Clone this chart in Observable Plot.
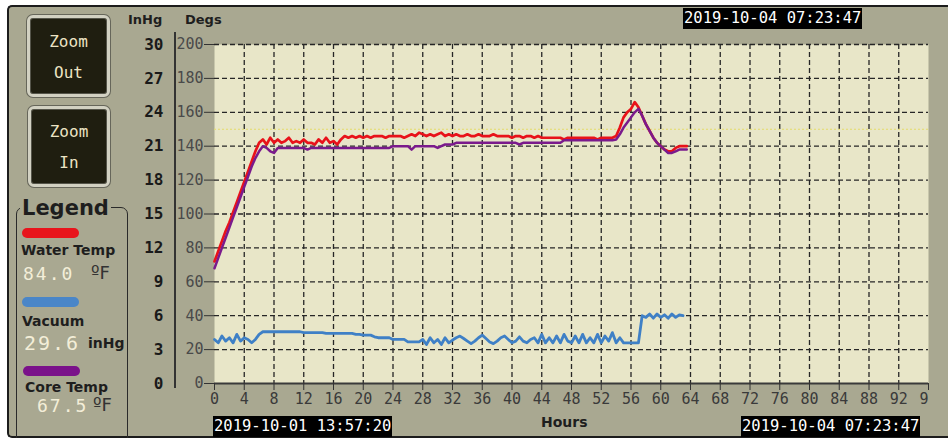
<!DOCTYPE html>
<html><head><meta charset="utf-8">
<script src="https://cdn.jsdelivr.net/npm/d3@7"></script>
<script src="https://cdn.jsdelivr.net/npm/@observablehq/plot@0.6"></script>
<style>
html,body{margin:0;padding:0;background:#fff;overflow:hidden;}
#wrap{position:relative;width:948px;height:438px;overflow:hidden;}
#panel{position:absolute;left:7px;top:5px;width:960px;height:429px;background:#a9a891;border-top:2px solid #1c1c1c;border-left:2px solid #1c1c1c;border-bottom:2px solid #1c1c1c;border-radius:5px 0 0 5px;}
#chart{position:absolute;left:0;top:0;}
.abs{position:absolute;white-space:nowrap;}
.btn{position:absolute;background:#1f1e10;border:3px solid #d2d1c2;border-radius:6px;box-shadow:0 0 0 1px #66665a, inset 0 0 0 1px #55554a;color:#ece4c4;font:16px "DejaVu Sans Mono",monospace;text-align:center;line-height:31px;box-sizing:border-box;}
.stamp{position:absolute;background:#000;color:#fff;font:15.5px "DejaVu Sans Mono",monospace;line-height:21px;padding:0 1px;white-space:nowrap;}
.bold{font-family:"DejaVu Sans",sans-serif;font-weight:bold;color:#1e1e1e;}
.val{font-family:"DejaVu Sans Mono",monospace;font-size:18px;color:#f3eed8;letter-spacing:2px;}
.unitF{font-family:"DejaVu Sans",sans-serif;font-size:18px;color:#333;}
.pill{position:absolute;height:10px;border-radius:5px;}
</style>
</head><body>
<div id="wrap">
  <div id="panel"></div>
  <div class="btn" style="left:27px;top:15px;width:83px;height:82px;padding-top:8px;">Zoom<br>Out</div>
  <div class="btn" style="left:28px;top:106px;width:82px;height:81px;padding-top:7px;">Zoom<br>In</div>
  <div class="abs" style="left:16px;top:207px;width:110px;height:240px;border:1.5px solid #2a2a2a;border-radius:7px;"></div>
  <div class="abs bold" style="left:20px;top:194px;font-size:21px;background:#a9a891;padding:0 2px;line-height:28px;">Legend</div>
  <div class="pill" style="left:22px;top:228px;width:57px;background:#e8141c;"></div>
  <div class="abs bold" style="left:21px;top:242px;font-size:14px;">Water Temp</div>
  <div class="abs val" style="left:23px;top:263px;">84.0</div>
  <div class="abs unitF" style="left:91px;top:262px;">ºF</div>
  <div class="pill" style="left:22px;top:297px;width:57px;background:#4a86c8;"></div>
  <div class="abs bold" style="left:22px;top:313px;font-size:14px;">Vacuum</div>
  <div class="abs val" style="left:24px;top:331px;font-size:20px;">29.6</div>
  <div class="abs bold" style="left:88px;top:335px;font-size:14px;">inHg</div>
  <div class="pill" style="left:23px;top:366px;width:57px;background:#7a118a;"></div>
  <div class="abs bold" style="left:25px;top:379px;font-size:14px;">Core Temp</div>
  <div class="abs val" style="left:37px;top:395px;font-size:18px;">67.5</div>
  <div class="abs unitF" style="left:93px;top:394px;">ºF</div>
  <div class="abs bold" style="left:128px;top:12px;font-size:13px;">InHg</div>
  <div class="abs bold" style="left:185px;top:12px;font-size:13px;">Degs</div>
  <div class="abs" style="left:174px;top:32px;width:2px;height:356px;background:#333;"></div>
  <div id="chart"></div>
  <div class="stamp" style="left:683px;top:8px;">2019-10-04 07:23:47</div>
  <div class="stamp" style="left:213px;top:416px;">2019-10-01 13:57:20</div>
  <div class="stamp" style="left:741px;top:416px;">2019-10-04 07:23:47</div>
  <div class="abs bold" style="left:541px;top:414px;font-size:14px;">Hours</div>
</div>
<script>
// ---- data ----
const hours = [
  0,0.5,1,1.5,2,2.5,3,3.5,4,4.5,5,5.5,6,6.5,7,7.5,8,8.5,9,9.5,
  10,10.5,11,11.5,12,12.5,13,13.5,14,14.5,15,15.5,16,16.5,17,17.5,18,18.5,19,19.5,
  20,20.5,21,21.5,22,22.5,23,23.5,24,24.5,25,25.5,26,26.5,27,27.5,28,28.5,29,29.5,
  30,30.5,31,31.5,32,32.5,33,33.5,34,34.5,35,35.5,36,36.5,37,37.5,38,38.5,39,39.5,
  40,40.5,41,41.5,42,42.5,43,43.5,44,44.5,45,45.5,46,46.5,47,47.5,48,48.5,49,49.5,
  50,50.5,51,51.5,52,52.5,53,53.5,54,54.5,55,55.5,56,56.5,57,57.5,58,58.5,59,59.5,
  60,60.5,61,61.5,62,62.5,63,63.5
];
const waterTemp = [
  72,78,84,90,95,101,107,113,119,125,131,137,142,144,141,145,142,144,142,143,
  145,142,143,142,144,142,142,141,144,142,145,142,143,141,144,146,145,146,145,146,
  145,146,145,146,146,146,145,146,146,146,146,145,146,147,146,148,147,146,147,146,
  147,148,146,147,146,147,146,146,147,146,146,147,146,146,146,147,146,146,146,146,
  145,146,146,145,146,146,145,146,145,145,145,145,145,145,144,145,145,145,145,145,
  145,145,145,144,145,145,145,145,146,151,157,160,162,166,163,158,153,149,145,142,
  140,138,137,137,139,140,140,140
];
const coreTemp = [
  68,74,80,86,92,98,104,110,116,122,128,133,137,140,139,137,136,139,139,139,
  139,139,139,139,139,138,139,139,139,139,139,139,139,139,139,139,139,139,139,139,
  139,139,139,139,139,139,139,139,140,140,140,140,140,138,140,140,140,140,140,140,
  139,140,141,141,141,142,142,142,142,142,142,142,142,142,142,142,142,142,142,142,
  142,142,141,142,142,142,142,142,142,142,142,142,142,142,143.5,143.5,143.5,143.5,143.5,143.5,
  143.5,143.5,143.5,143.5,143.5,143.5,143.5,143.5,144,147,151,154,157,160,162,158,153,149,145,142,
  140,138,136,136,137,138,138,138
];
const vacuumInHg = [
  3.9,3.6,4.2,3.75,4.05,3.6,4.35,3.75,4.05,3.9,3.6,3.9,4.35,4.58,4.58,4.58,4.58,4.58,4.58,4.58,
  4.58,4.58,4.58,4.58,4.5,4.5,4.5,4.5,4.5,4.5,4.43,4.43,4.43,4.43,4.43,4.43,4.43,4.43,4.35,4.35,
  4.28,4.28,4.28,4.13,4.05,4.05,4.05,4.05,3.9,3.9,3.9,3.9,3.68,3.68,3.68,3.68,3.9,3.45,4.05,3.6,
  3.9,3.45,4.05,3.6,3.83,4.05,4.2,3.98,3.75,3.53,3.75,4.05,4.28,3.98,3.68,3.53,3.75,4.05,4.2,3.9,
  3.6,3.75,4.13,3.75,3.6,3.9,4.05,3.6,4.35,3.6,4.05,3.6,4.2,3.6,4.35,3.75,3.6,4.2,3.6,4.35,
  3.6,4.05,3.6,4.35,3.6,4.2,3.75,4.5,3.6,4.05,3.6,3.6,3.6,3.6,3.6,6.0,5.85,6.15,5.78,6.15,
  5.85,6.08,5.78,6.15,5.85,6.08,6.0,null
];
const setpointDegs = [150];
const xTicks = [0,4,8,12,16,20,24,28,32,36,40,44,48,52,56,60,64,68,72,76,80,84,88,92,96];
const degTicks = [0,20,40,60,80,100,120,140,160,180,200];
const inHgMax = 30, degMax = 200;

// ---- build table ----
const rows = hours.map((h, i) => ({h, water: waterTemp[i], core: coreTemp[i], vac: vacuumInHg[i]}));
const degPerInHg = degMax / inHgMax;

const chart = Plot.plot({
  width: 948, height: 438,
  marginLeft: 214, marginRight: 20, marginTop: 44, marginBottom: 55,
  style: {background: "transparent", fontFamily: "DejaVu Sans Mono, monospace", fontSize: "15px", overflow: "visible"},
  x: {domain: [0, 96]},
  y: {domain: [0, degMax]},
  marks: [
    Plot.frame({fill: "#e8e6c8", stroke: null}),
    Plot.gridX({ticks: xTicks.filter(t => t > 0 && t < 96), stroke: "#262626", strokeOpacity: 1, strokeWidth: 1.3, strokeDasharray: "5,3"}),
    Plot.gridY({ticks: degTicks.filter(t => t > 0), stroke: "#262626", strokeOpacity: 1, strokeWidth: 1.3, strokeDasharray: "5,3"}),
    Plot.ruleY(setpointDegs, {stroke: "#e4dc6a", strokeWidth: 1.2, strokeDasharray: "2,2"}),
    Plot.line(rows, {x: "h", y: d => d.vac == null ? NaN : d.vac * degPerInHg, stroke: "#3f80c6", strokeWidth: 2.8}),
    Plot.line(rows, {x: "h", y: "water", stroke: "#e8121a", strokeWidth: 2.7}),
    Plot.line(rows, {x: "h", y: "core", stroke: "#7a1a8c", strokeWidth: 2.5}),
    Plot.ruleY([0], {stroke: "#3a3a3a", strokeWidth: 2}),
    Plot.axisX({ticks: xTicks, tickSize: 7, tickPadding: 3, label: null, stroke: "#333", fill: "#3a3a3a", fontSize: 15,
      tickFormat: d => d === 96 ? "" : String(d)}),
    Plot.axisX({ticks: [96], tickSize: 0, tickPadding: 10, label: null, fill: "#3a3a3a", fontSize: 15, textAnchor: "end",
      tickFormat: d => String(d).slice(0, 1)}),
    Plot.axisY({ticks: degTicks, tickSize: 10, tickPadding: 1, label: null, stroke: "#333", fill: "#4a4a4a", fontSize: 15}),
    Plot.axisY({ticks: degTicks, tickSize: 0, tickPadding: 51, label: null, fill: "#1a1a1a", fontSize: 16, fontWeight: "bold",
      tickFormat: d => String(Math.round(d * inHgMax / degMax))})
  ]
});
document.getElementById("chart").appendChild(chart);
</script>
</body></html>
